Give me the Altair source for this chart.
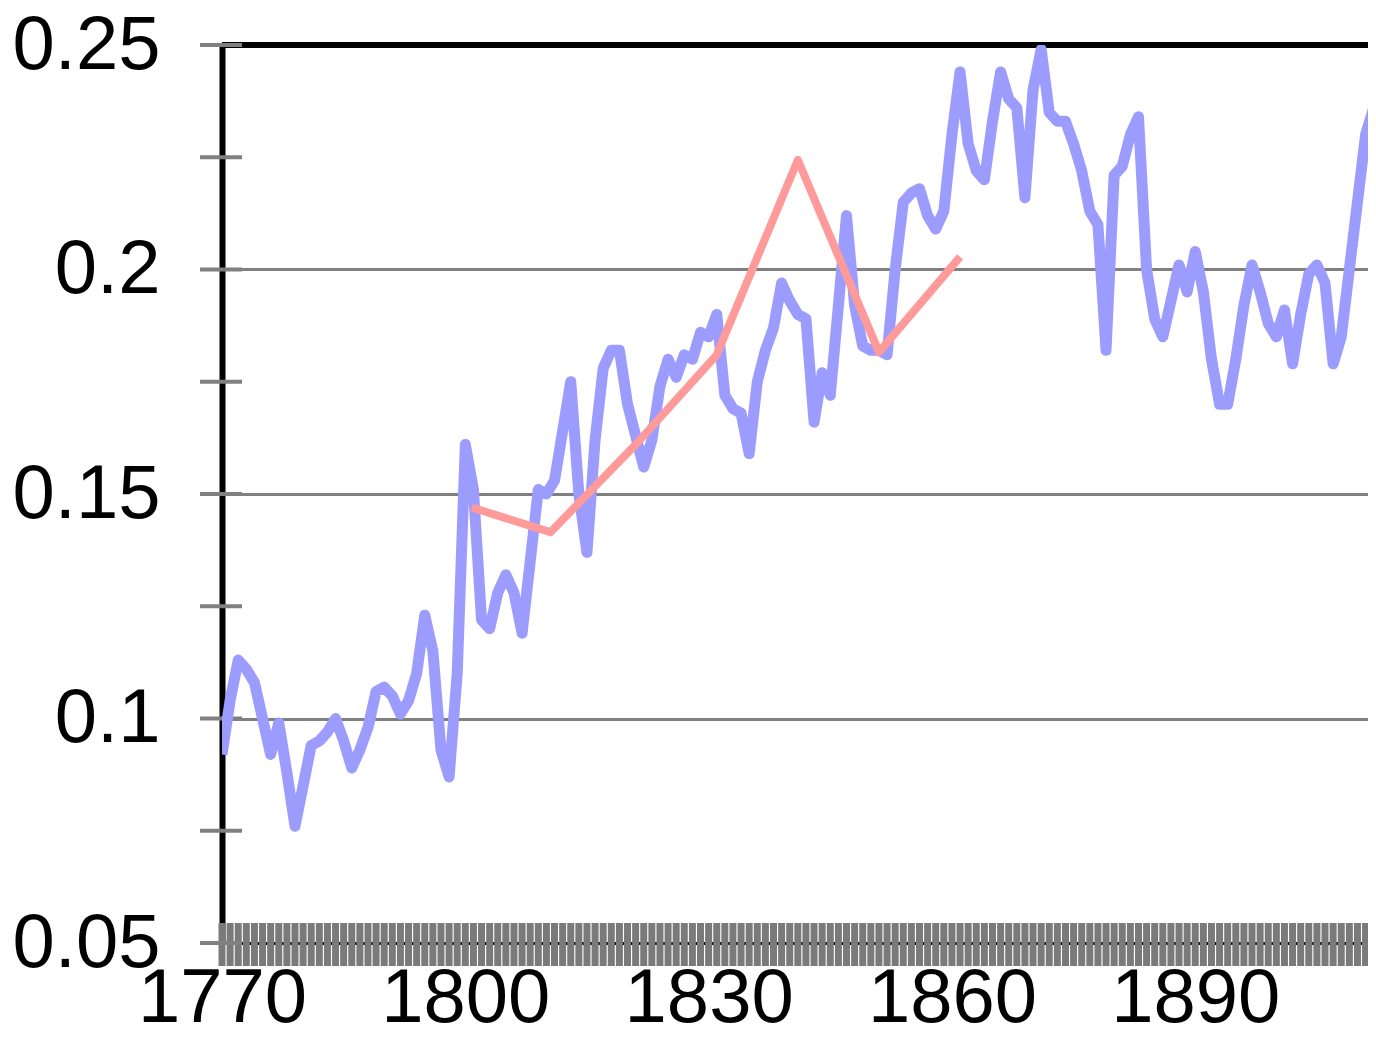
import altair as alt
import pandas as pd

# ---- data ----
years = list(range(1770, 1913))
annual = [
    0.092, 0.104, 0.113, 0.111, 0.108, 0.100, 0.092, 0.099, 0.088, 0.076,   # 1770s
    0.085, 0.094, 0.095, 0.097, 0.100, 0.095, 0.089, 0.093, 0.098, 0.106,   # 1780s
    0.107, 0.105, 0.101, 0.104, 0.110, 0.123, 0.115, 0.093, 0.087, 0.110,   # 1790s
    0.161, 0.151, 0.122, 0.120, 0.128, 0.132, 0.128, 0.119, 0.135, 0.151,   # 1800s
    0.150, 0.153, 0.164, 0.175, 0.150, 0.137, 0.162, 0.178, 0.182, 0.182,   # 1810s
    0.170, 0.163, 0.156, 0.162, 0.174, 0.180, 0.176, 0.181, 0.180, 0.186,   # 1820s
    0.185, 0.190, 0.172, 0.169, 0.168, 0.159, 0.175, 0.182, 0.187, 0.197,   # 1830s
    0.193, 0.190, 0.189, 0.166, 0.177, 0.172, 0.192, 0.212, 0.192, 0.183,   # 1840s
    0.182, 0.182, 0.181, 0.200, 0.215, 0.217, 0.218, 0.212, 0.209, 0.213,   # 1850s
    0.230, 0.244, 0.228, 0.222, 0.220, 0.233, 0.244, 0.238, 0.236, 0.216,   # 1860s
    0.240, 0.249, 0.235, 0.233, 0.233, 0.228, 0.222, 0.213, 0.210, 0.182,   # 1870s
    0.221, 0.223, 0.230, 0.234, 0.200, 0.189, 0.185, 0.193, 0.201, 0.195,   # 1880s
    0.204, 0.195, 0.180, 0.170, 0.170, 0.180, 0.192, 0.201, 0.195, 0.188,   # 1890s
    0.185, 0.191, 0.179, 0.190, 0.199, 0.201, 0.197, 0.179, 0.185, 0.200,   # 1900s
    0.215, 0.230, 0.236,                                                     # 1910-1912
]
decade_years = [1800.8, 1810.5, 1821, 1831, 1841, 1851, 1861]
decade_vals = [0.147, 0.1415, 0.161, 0.181, 0.2244, 0.1816, 0.2028]

y_tick_vals = [0.05, 0.075, 0.1, 0.125, 0.15, 0.175, 0.2, 0.225, 0.25]
y_label_vals = [0.05, 0.1, 0.15, 0.2, 0.25]
x_label_vals = [1770, 1800, 1830, 1860, 1890]
band_years = list(range(1770, 1912))

# ---- layout ----
W, H = 1146, 898
FONT = "Liberation Sans"
GRAY = "#808080"

annual_df = pd.DataFrame({"year": years, "value": annual})
decade_df = pd.DataFrame({"year": decade_years, "value": decade_vals})
ytick_df = pd.DataFrame({"value": y_tick_vals})
xtick_df = pd.DataFrame({"year": band_years})

xscale = alt.Scale(domain=[1770, 1911.3], nice=False, zero=False)
yscale = alt.Scale(domain=[0.05, 0.25], nice=False, zero=False)

xaxis = alt.Axis(values=x_label_vals, format="d", title=None, grid=False,
                 ticks=False, tickSize=0, labelPadding=18, labelFlush=False,
                 labelOverlap=False, labelFontSize=76, labelFont=FONT,
                 labelColor="black", domain=True, domainColor="black",
                 domainWidth=3)
yaxis = alt.Axis(values=y_label_vals, format=".2~f", title=None, grid=True,
                 gridColor=GRAY, gridWidth=3, ticks=False, tickSize=0,
                 labelPadding=62, labelFontSize=76, labelFont=FONT,
                 labelColor="black", labelBaseline="middle",
                 domain=True, domainColor="black", domainWidth=6)

X = lambda: alt.X("year:Q", scale=xscale, axis=xaxis)
Y = lambda: alt.Y("value:Q", scale=yscale, axis=yaxis)

# dense gray x ticks straddling the bottom axis
xband = alt.Chart(xtick_df).mark_rule(color="#7a7a7a", strokeWidth=7).encode(
    x=X(), y=alt.value(H - 20), y2=alt.value(H + 23)
)

# black top frame line
topline = alt.Chart(ytick_df).mark_rule(color="black", strokeWidth=6).encode(
    x=alt.value(0), x2=alt.value(W), y=alt.value(0)
)

# gray y ticks crossing the axis
yticks = alt.Chart(ytick_df).mark_rule(color=GRAY, strokeWidth=4).encode(
    y=Y(), x=alt.value(-22), x2=alt.value(20)
)

blue = alt.Chart(annual_df).mark_line(
    color="#9c9cff", strokeWidth=11, strokeJoin="round", clip=True
).encode(x=X(), y=Y())

red = alt.Chart(decade_df).mark_line(
    color="#ff9a9a", strokeWidth=8, strokeJoin="round"
).encode(x=X(), y=Y())

chart = alt.layer(xband, topline, yticks, blue, red).properties(
    width=W, height=H,
    autosize=alt.AutoSizeParams(type="none"),
    padding={"left": 214, "top": 37, "right": 0, "bottom": 80},
    background="white",
).configure_view(stroke=None)

chart.save("out.html", embed_options={"renderer": "svg", "actions": False})
